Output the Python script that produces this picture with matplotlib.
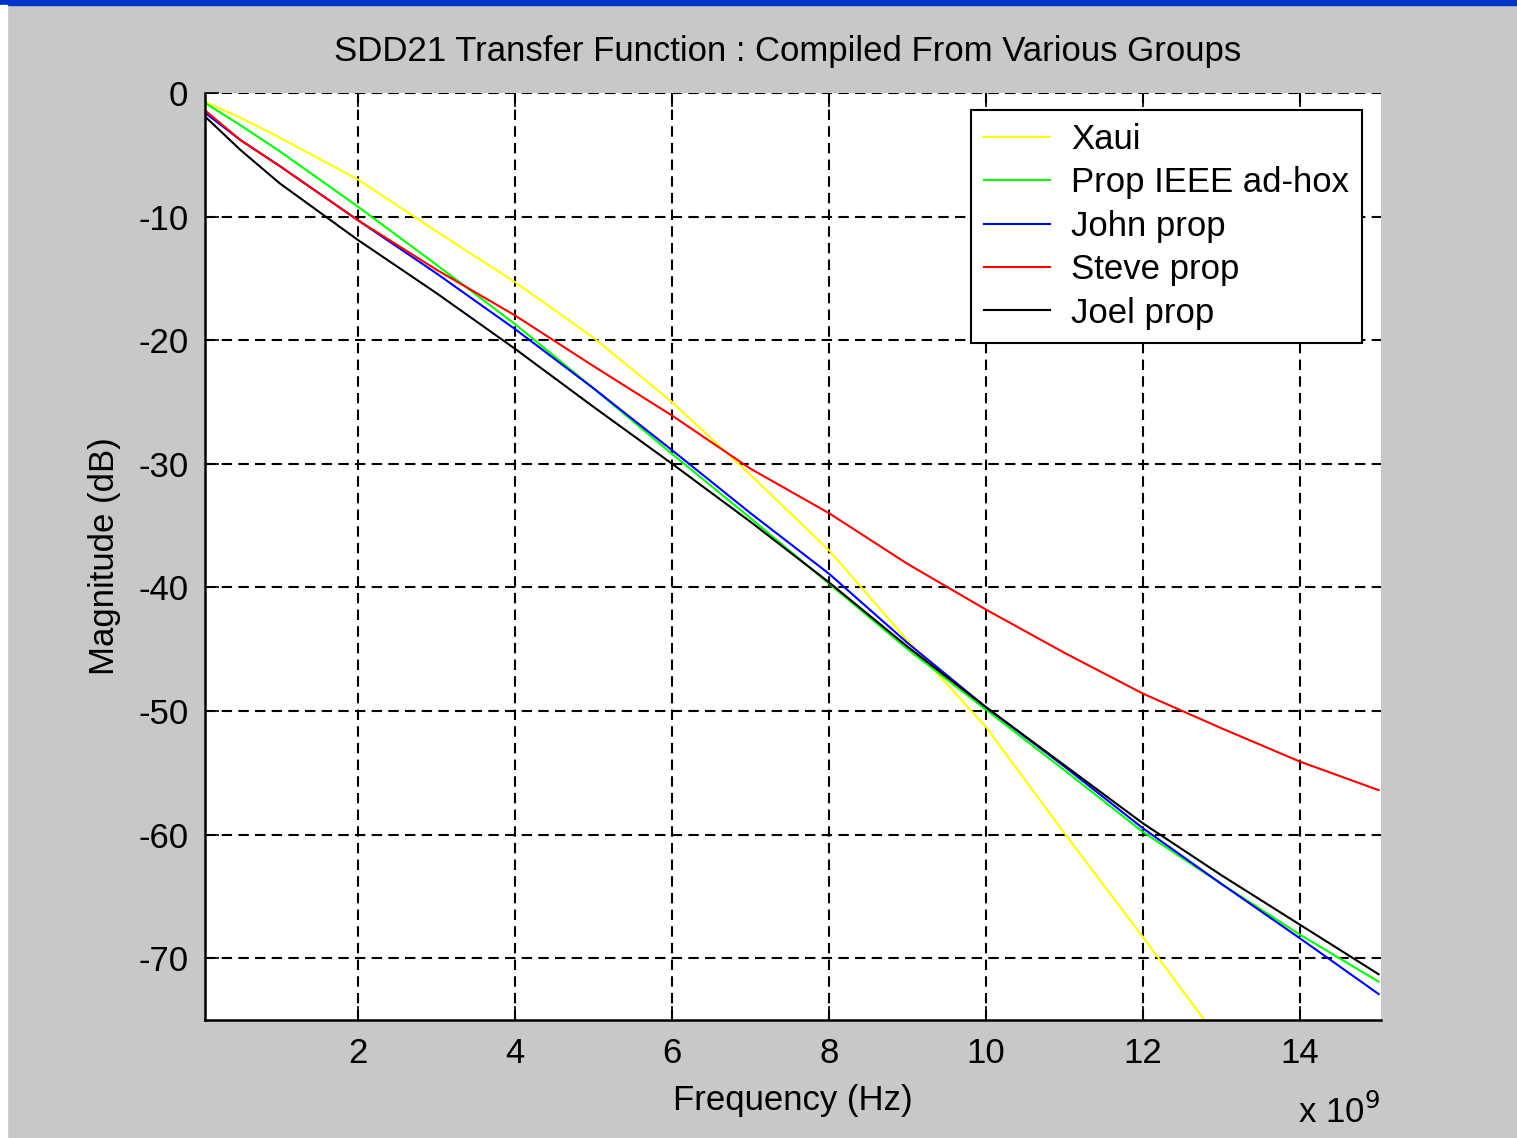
import matplotlib
matplotlib.use("Agg")
import matplotlib.pyplot as plt
from matplotlib.patches import Rectangle

# frequency in GHz (axis shown as x 10^9 Hz)
freq = [0.05, 0.5, 1, 2, 3, 4, 5, 6, 7, 8, 9, 10, 11, 12, 13, 14, 15]
xaui_freq = [0.05, 0.5, 1, 2, 3, 4, 5, 6, 7, 8, 9, 10, 11, 12, 12.78]

xaui = [-0.7, -2.0, -3.6, -7.0, -11.2, -15.3, -19.8, -25.0, -30.9, -37.0,
        -44.3, -51.3, -59.9, -68.3, -75.0]
ieee = [-0.8, -2.6, -4.7, -9.2, -13.9, -18.7, -23.9, -29.2, -34.4, -39.7,
        -45.0, -49.9, -54.8, -59.8, -64.0, -68.1, -71.9]
john = [-1.6, -3.8, -5.9, -10.3, -14.6, -19.1, -23.9, -28.9, -34.0, -38.9,
        -44.5, -49.7, -54.5, -59.5, -64.0, -68.4, -72.9]
steve = [-1.4, -3.8, -5.9, -10.3, -14.3, -18.0, -22.1, -26.1, -30.4, -34.0,
         -38.1, -41.8, -45.3, -48.6, -51.4, -54.1, -56.4]
joel = [-1.9, -4.6, -7.3, -11.9, -16.2, -20.7, -25.4, -30.0, -34.7, -39.6,
        -44.8, -49.7, -54.4, -59.1, -63.3, -67.3, -71.3]

xticks = [2, 4, 6, 8, 10, 12, 14]
yticks = [0, -10, -20, -30, -40, -50, -60, -70]

plt.rcParams['font.family'] = ['Liberation Sans', 'DejaVu Sans']
plt.rcParams['axes.unicode_minus'] = False
fs = 25

W, H = 1517, 1138
fig = plt.figure(figsize=(W / 100, H / 100), dpi=100, facecolor='#c8c8c8')
fig.add_artist(Rectangle((0, 1 - 5 / H), 1, 5 / H, transform=fig.transFigure,
                         color='#0033cc', zorder=10))
fig.add_artist(Rectangle((0, 0), 7 / W, 1 - 5 / H, transform=fig.transFigure,
                         color='white', zorder=10))

ax = fig.add_axes([205 / W, 1 - 1020 / H, (1381 - 205) / W, (1020 - 93) / H])
ax.set_facecolor('white')

lw = 1.5
ax.plot(xaui_freq, xaui, color='#ffff00', lw=lw, label='Xaui')
ax.plot(freq, ieee, color='#00ff00', lw=lw, label='Prop IEEE ad-hox')
ax.plot(freq, john, color='#0000ff', lw=lw, label='John prop')
ax.plot(freq, steve, color='#ff0000', lw=lw, label='Steve prop')
ax.plot(freq, joel, color='black', lw=lw, label='Joel prop')

ax.set_xlim(0.05, 15.03)
ax.set_ylim(-75, 0)
ax.set_xticks(xticks)
ax.set_yticks(yticks)
ax.tick_params(direction='in', length=10, width=1.2, labelsize=fs, pad=12,
               top=True, colors='black')
ax.grid(True, color='black', linestyle=(0, (5, 3)), linewidth=1.5)
for s in ['top', 'right']:
    ax.spines[s].set_visible(False)
for s in ['left', 'bottom']:
    ax.spines[s].set_linewidth(1.8)

ax.set_xlabel('Frequency (Hz)', fontsize=fs, labelpad=10)
ax.set_ylabel('Magnitude (dB)', fontsize=fs, labelpad=12)
fig.text(788 / W, 1 - 52 / H, 'SDD21 Transfer Function : Compiled From Various Groups',
         fontsize=fs, ha='center', va='center')
fig.text(1380 / W, 1 - 1112 / H, r'x 10$^9$', fontsize=fs, ha='right', va='center')

leg = ax.legend(loc='upper right', bbox_to_anchor=(0.984, 0.982), fontsize=fs,
                fancybox=False, edgecolor='black', framealpha=1, borderaxespad=0,
                handlelength=1.9, handletextpad=0.6, labelspacing=0.3,
                borderpad=0.38)
leg.get_frame().set_linewidth(1.5)

fig.savefig('out.png', dpi=100, facecolor=fig.get_facecolor())
